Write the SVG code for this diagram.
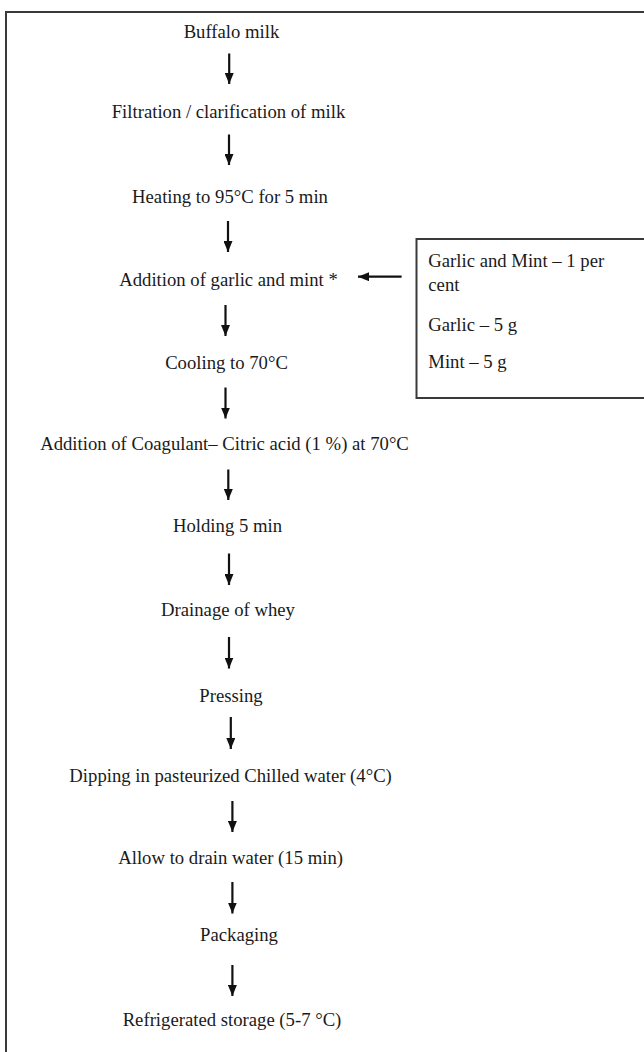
<svg xmlns="http://www.w3.org/2000/svg" width="644" height="1052" viewBox="0 0 644 1052">
<style>
text{font-family:"Liberation Serif","Times New Roman",serif;font-size:18.7px;fill:#1a1a1a}
.c{text-anchor:middle}
.frame{fill:none;stroke:#3a3a3a;stroke-width:2}
.arr{stroke:#111;stroke-width:2.2;fill:none;marker-end:url(#ah)}
</style>
<defs>
<marker id="ah" viewBox="0 0 11 9" refX="11" refY="4.5" markerWidth="11" markerHeight="9" markerUnits="userSpaceOnUse" orient="auto">
<path d="M0,0 L11,4.5 L0,9 z" fill="#111"/>
</marker>
</defs>
<rect width="644" height="1052" fill="#fff"/>
<path class="frame" d="M6,1052 V12 H644"/>
<g id="n1"><text class="c" x="231.5" y="37.5">Buffalo milk</text></g>
<g id="n2"><text class="c" x="228.5" y="118">Filtration / clarification of milk</text></g>
<g id="n3"><text class="c" x="230" y="202.5">Heating to 95°C for 5 min</text></g>
<g id="n4"><text class="c" x="228.5" y="285.5">Addition of garlic and mint *</text></g>
<g id="n5"><text class="c" x="226.5" y="369">Cooling to 70°C</text></g>
<g id="n6"><text class="c" x="224.5" y="450">Addition of Coagulant– Citric acid (1 %) at 70°C</text></g>
<g id="n7"><text class="c" x="227.5" y="532">Holding 5 min</text></g>
<g id="n8"><text class="c" x="228" y="616">Drainage of whey</text></g>
<g id="n9"><text class="c" x="231" y="701.5">Pressing</text></g>
<g id="n10"><text class="c" x="230.6" y="782">Dipping in pasteurized Chilled water (4°C)</text></g>
<g id="n11"><text class="c" x="230.6" y="864">Allow to drain water (15 min)</text></g>
<g id="n12"><text class="c" x="239" y="941">Packaging</text></g>
<g id="n13"><text class="c" x="232" y="1026">Refrigerated storage (5-7 °C)</text></g>
<g id="side">
<rect x="416.5" y="239" width="240" height="159" fill="none" stroke="#3a3a3a" stroke-width="2"/>
<text x="428.3" y="266.5">Garlic and Mint – 1 per</text>
<text x="428.3" y="291">cent</text>
<text x="428.3" y="331">Garlic – 5 g</text>
<text x="428.3" y="368">Mint – 5 g</text>
</g>
<g id="connectors">
<line class="arr" x1="229.2" y1="53.5" x2="229.2" y2="84"/>
<line class="arr" x1="229" y1="134.5" x2="229" y2="165"/>
<line class="arr" x1="228" y1="221" x2="228" y2="252"/>
<line class="arr" x1="225.5" y1="305" x2="225.5" y2="336"/>
<line class="arr" x1="225.5" y1="387.5" x2="225.5" y2="418.5"/>
<line class="arr" x1="228.3" y1="469.5" x2="228.3" y2="500"/>
<line class="arr" x1="229" y1="553.5" x2="229" y2="585"/>
<line class="arr" x1="229" y1="637" x2="229" y2="668.5"/>
<line class="arr" x1="230.8" y1="717" x2="230.8" y2="749"/>
<line class="arr" x1="232.4" y1="801" x2="232.4" y2="832"/>
<line class="arr" x1="232.4" y1="882" x2="232.4" y2="913.5"/>
<line class="arr" x1="232.4" y1="965" x2="232.4" y2="996"/>
<line class="arr" x1="401.6" y1="276.7" x2="358" y2="276.7"/>
</g>
</svg>
